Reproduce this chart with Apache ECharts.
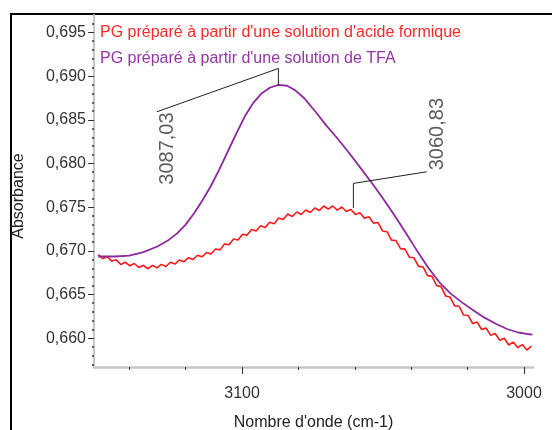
<!DOCTYPE html>
<html>
<head>
<meta charset="utf-8">
<script src="https://cdn.jsdelivr.net/npm/echarts@6/dist/echarts.min.js"></script>
<style>
html,body{margin:0;padding:0;background:#fff;}
#chart{width:552px;height:430px;}
</style>
</head>
<body>
<div id="chart"></div>
<script>
// ---- data ----
const redName = "PG préparé à partir d'une solution d'acide formique";
const purpleName = "PG préparé à partir d'une solution de TFA";

const redWave = [
3151.0,3149.4,3147.8,3146.2,3144.6,3143.0,3141.4,3139.8,3138.2,3136.6,
3135.0,3133.4,3131.8,3130.2,3128.6,3127.0,3125.4,3123.8,3122.2,3120.6,
3119.0,3117.4,3115.8,3114.2,3112.6,3111.0,3109.4,3107.8,3106.2,3104.6,
3103.0,3101.4,3099.8,3098.2,3096.6,3095.0,3093.4,3091.8,3090.2,3088.6,
3087.0,3085.4,3083.8,3082.2,3080.6,3079.0,3077.4,3075.8,3074.2,3072.6,
3071.0,3069.4,3067.8,3066.2,3064.6,3063.0,3061.4,3059.8,3058.2,3056.6,
3055.0,3053.4,3051.8,3050.2,3048.6,3047.0,3045.4,3043.8,3042.2,3040.6,
3039.0,3037.4,3035.8,3034.2,3032.6,3031.0,3029.4,3027.8,3026.2,3024.6,
3023.0,3021.4,3019.8,3018.2,3016.6,3015.0,3013.4,3011.8,3010.2,3008.6,
3007.0,3005.4,3003.8,3002.2,3000.6,2999.0,2997.4];

const redAbs = [
0.66957,0.66911,0.66933,0.66883,0.66897,0.66843,0.66870,0.66829,0.66855,0.66810,
0.66834,0.66795,0.66834,0.66806,0.66845,0.66821,0.66869,0.66848,0.66895,0.66875,
0.66922,0.66901,0.66949,0.66931,0.66981,0.66963,0.67020,0.67011,0.67079,0.67070,
0.67136,0.67125,0.67190,0.67180,0.67245,0.67226,0.67286,0.67267,0.67327,0.67311,
0.67375,0.67359,0.67421,0.67393,0.67444,0.67416,0.67467,0.67439,0.67490,0.67461,
0.67513,0.67478,0.67513,0.67467,0.67502,0.67450,0.67474,0.67417,0.67435,0.67372,
0.67390,0.67317,0.67325,0.67228,0.67219,0.67123,0.67118,0.67025,0.67020,0.66926,
0.66920,0.66822,0.66815,0.66716,0.66708,0.66603,0.66590,0.66484,0.66471,0.66370,
0.66365,0.66265,0.66260,0.66168,0.66184,0.66099,0.66115,0.66032,0.66054,0.65977,
0.65999,0.65922,0.65955,0.65891,0.65927,0.65864,0.65910];

const purpleWave = [3151,3145,3140,3135,3130,3126,3123,3120,3117,3114,3111,3108,3105,3102,3099,3096,3093,3090,3087,3084,3081,3078,3074,3070,3066,3062,3058,3054,3050,3046,3042,3038,3034,3030,3026,3022,3018,3014,3010,3006,3002,2999,2997];
const purpleAbs = [0.66935,0.66935,0.66945,0.66985,0.67050,0.67125,0.67200,0.67300,0.67430,0.67580,0.67745,0.67935,0.68140,0.68345,0.68540,0.68695,0.68805,0.68870,0.68900,0.68890,0.68835,0.68750,0.68595,0.68430,0.68280,0.68120,0.67950,0.67780,0.67600,0.67410,0.67210,0.67005,0.66810,0.66640,0.66510,0.66410,0.66320,0.66235,0.66165,0.66105,0.66065,0.66048,0.66040];

// peak annotations: leader polyline (label end -> elbow -> peak) and label position
const peakLabels = ["3087,03", "3060,83"];
const leader1Wave = [3130.2, 3087.1, 3087.1];
const leader1Abs  = [0.68592, 0.69088, 0.68897];
const leader2Wave = [3034.5, 3060.5, 3060.5];
const leader2Abs  = [0.67905, 0.67772, 0.67490];
const labelWave = [3126.6, 3030.7];
const labelAbs  = [0.68171, 0.68336];

// axis ticks
const xMajorTicks = [3000, 3100];
const xMinorTicks = [3020, 3040, 3060, 3080, 3120, 3140];
const yMajorTicks = [0.660, 0.665, 0.670, 0.675, 0.680, 0.685, 0.690, 0.695];
const yMinorTicks = [0.657,0.658,0.659,0.661,0.662,0.663,0.664,0.666,0.667,0.668,0.669,0.671,0.672,0.673,0.674,0.676,0.677,0.678,0.679,0.681,0.682,0.683,0.684,0.686,0.687,0.688,0.689,0.691,0.692,0.693,0.694,0.696];

const xMin = 2996.8, xMax = 3152.5;
const yMin = 0.6567, yMax = 0.6970;

const zip = (a, b) => a.map((v, i) => [v, b[i]]);

const FONT = "'Liberation Sans', Arial, sans-serif";
const chart = echarts.init(document.getElementById('chart'), null, {renderer: 'canvas'});

const baseX = {
  type: 'value', inverse: true, min: xMin, max: xMax, position: 'bottom',
  splitLine: {show: false}
};
const baseY = {
  type: 'value', min: yMin, max: yMax, position: 'left',
  splitLine: {show: false}
};

chart.setOption({
  animation: false,
  backgroundColor: '#fff',
  textStyle: {fontFamily: FONT},
  graphic: [{
    type: 'rect', z: -1,
    shape: {x: 11, y: 14, width: 600, height: 500},
    style: {fill: 'none', stroke: '#000', lineWidth: 2}
  }],
  grid: {left: 94, right: 19, top: 15, bottom: 63, containLabel: false, outerBoundsMode: 'none'},
  legend: {
    show: true, orient: 'vertical', left: 90, top: 20,
    itemWidth: 0, itemHeight: 0, itemGap: 10, icon: 'rect', selectedMode: false,
    textStyle: {fontSize: 16, lineHeight: 16, fontFamily: FONT, padding: 0},
    data: [
      {name: redName, textStyle: {color: '#ff2a2a'}},
      {name: purpleName, textStyle: {color: '#9436a6'}}
    ]
  },
  xAxis: [
    Object.assign({}, baseX, {
      name: "Nombre d'onde (cm-1)", nameLocation: 'middle', nameGap: 48,
      nameTextStyle: {fontSize: 16, color: '#222', fontFamily: FONT},
      axisLine: {show: true, onZero: false, lineStyle: {color: '#c6c6c6', width: 2.5}},
      axisTick: {show: true, customValues: xMajorTicks, length: 7, lineStyle: {color: '#333', width: 1}},
      axisLabel: {show: true, customValues: xMajorTicks, margin: 19, fontSize: 16, color: '#333', fontFamily: FONT,
        formatter: v => String(Math.round(v))}
    }),
    Object.assign({}, baseX, {
      axisLine: {show: false, onZero: false},
      axisTick: {show: true, customValues: xMinorTicks, length: 3, lineStyle: {color: '#333', width: 1}},
      axisLabel: {show: false}
    })
  ],
  yAxis: [
    Object.assign({}, baseY, {
      name: 'Absorbance', nameLocation: 'middle', nameGap: 67,
      nameTextStyle: {fontSize: 16, color: '#222', fontFamily: FONT, padding: [0, 0, 0, -10]},
      axisLine: {show: true, onZero: false, lineStyle: {color: '#c6c6c6', width: 2}},
      axisTick: {show: true, customValues: yMajorTicks, length: 6, lineStyle: {color: '#333', width: 1}},
      axisLabel: {show: true, customValues: yMajorTicks, margin: 8, fontSize: 16, color: '#333', fontFamily: FONT,
        formatter: v => v.toFixed(3).replace('.', ',')}
    }),
    Object.assign({}, baseY, {
      axisLine: {show: false, onZero: false},
      axisTick: {show: true, customValues: yMinorTicks, length: 2, lineStyle: {color: '#333', width: 1.5}},
      axisLabel: {show: false}
    })
  ],
  series: [
    {
      name: redName, type: 'line', xAxisIndex: 0, yAxisIndex: 0,
      data: zip(redWave, redAbs), showSymbol: false, symbol: 'none',
      lineStyle: {color: '#ff1a1a', width: 1.6}, itemStyle: {color: '#ff2a2a'}, z: 3
    },
    {
      name: purpleName, type: 'line', xAxisIndex: 0, yAxisIndex: 0,
      data: zip(purpleWave, purpleAbs), showSymbol: false, symbol: 'none', smooth: false,
      lineStyle: {color: '#8a2a9c', width: 1.8}, itemStyle: {color: '#9436a6'}, z: 4
    },
    {
      name: 'leader1', type: 'line', xAxisIndex: 0, yAxisIndex: 0,
      data: zip(leader1Wave, leader1Abs), showSymbol: false, symbol: 'none',
      lineStyle: {color: '#222', width: 1}, silent: true, z: 5
    },
    {
      name: 'leader2', type: 'line', xAxisIndex: 0, yAxisIndex: 0,
      data: zip(leader2Wave, leader2Abs), showSymbol: false, symbol: 'none',
      lineStyle: {color: '#222', width: 1}, silent: true, z: 5
    },
    {
      name: 'peakLabels', type: 'scatter', xAxisIndex: 0, yAxisIndex: 0,
      symbolSize: 0, silent: true, z: 6,
      data: labelWave.map((w, i) => ({value: [w, labelAbs[i]], label: {formatter: peakLabels[i]}})),
      label: {show: true, position: 'inside', rotate: 90, fontSize: 20, color: '#333', fontFamily: FONT}
    }
  ]
});
</script>
</body>
</html>
